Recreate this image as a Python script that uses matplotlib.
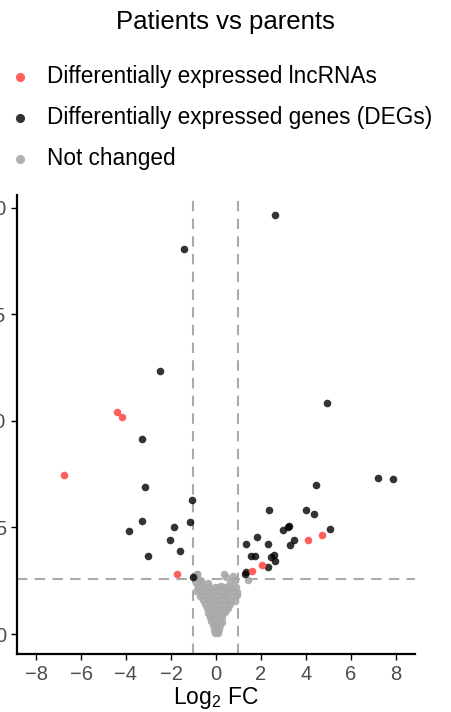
import matplotlib
matplotlib.use("Agg")
import matplotlib.pyplot as plt

plt.rcParams['font.family'] = ['Liberation Sans', 'DejaVu Sans']
plt.rcParams['mathtext.default'] = 'regular'

# differentially expressed lncRNAs (log2 FC, -log10 p)
lnc_x = [-6.76, -4.39, -4.19, -1.73, 1.60, 2.04, 4.10, 4.70]
lnc_y = [7.46, 10.40, 10.18, 2.80, 2.98, 3.26, 4.41, 4.66]

# differentially expressed genes
deg_x = [2.64, -1.42, -2.47, 4.95, -3.29, -3.14, 7.21, 7.88, 4.44, -1.05,
         2.37, 4.00, 4.36, -3.28, -1.17, -1.87, 5.07, -3.87, 2.98, 3.26,
         3.22, 3.47, 3.30, 1.82, 1.33, 2.34, -2.06, -1.60, 1.54, 1.76,
         2.59, 2.47, 2.62, -3.01, 2.34, 1.32, 1.29, -1.02]
deg_y = [19.67, 18.06, 12.34, 10.82, 9.14, 6.90, 7.30, 7.29, 6.99, 6.28,
         5.83, 5.80, 5.61, 5.31, 5.28, 5.03, 4.91, 4.82, 4.88, 5.07,
         5.00, 4.41, 4.16, 4.54, 4.23, 4.23, 4.43, 3.88, 3.64, 3.64,
         3.73, 3.60, 3.45, 3.64, 3.17, 2.90, 2.80, 2.67]

# not changed
nc_x = [-0.86, -0.84, -0.71, -0.89, -0.62, -0.33, 0.36, 0.47, 0.77, 0.62, 0.24, 0.85, 1.44,
        -0.80, -0.56, -0.31, -0.06, 0.16, 0.41, 0.66, 0.90,
        -0.88, -0.67, -0.44, -0.21, 0.02, 0.26, 0.49, 0.74, 0.93,
        -0.72, -0.50, -0.24, 0.05, 0.31, 0.56, 0.79, 0.92,
        -0.58, -0.37, -0.16, 0.11, 0.34, 0.61, 0.84,
        -0.48, -0.28, -0.09, 0.16, 0.41, 0.64,
        -0.40, -0.20, 0.01, 0.22, 0.42, 0.56,
        -0.33, -0.14, 0.06, 0.26, 0.42,
        -0.27, -0.10, 0.09, 0.29,
        -0.22, -0.04, 0.14, 0.27,
        -0.15, 0.04, 0.20,
        -0.08, 0.06, 0.15,
        -0.02, 0.09]
nc_y = [2.83, 2.81, 2.55, 2.39, 2.39, 2.39, 2.83, 2.70, 2.73, 2.39, 2.28, 2.55, 2.55,
        2.21, 2.18, 2.22, 2.19, 2.20, 2.23, 2.18, 2.21,
        2.01, 1.98, 2.03, 1.99, 2.02, 1.97, 2.00, 2.03, 1.98,
        1.81, 1.78, 1.82, 1.79, 1.83, 1.80, 1.77, 1.82,
        1.61, 1.58, 1.62, 1.59, 1.63, 1.60, 1.57,
        1.41, 1.38, 1.42, 1.39, 1.43, 1.40,
        1.21, 1.18, 1.22, 1.19, 1.20, 1.23,
        1.01, 0.98, 1.02, 0.99, 1.03,
        0.81, 0.78, 0.82, 0.79,
        0.61, 0.58, 0.62, 0.59,
        0.41, 0.38, 0.42,
        0.21, 0.18, 0.22,
        0.05, 0.03]

fig = plt.figure(figsize=(4.51, 7.12), dpi=100)
ax = fig.add_axes([0.0377, 0.0815, 0.882, 0.645])

ax.axvline(-1, color='#aaaaaa', lw=1.5, ls=(0, (5, 3.5)), zorder=1)
ax.axvline(1, color='#aaaaaa', lw=1.5, ls=(0, (5, 3.5)), zorder=1)
ax.axhline(2.6, color='#aaaaaa', lw=1.5, ls=(0, (5, 3.5)), zorder=1)

p3 = ax.scatter(nc_x, nc_y, s=30, color='#a9a9a9', alpha=0.9, lw=0, zorder=2, label='Not changed')
p2 = ax.scatter(deg_x, deg_y, s=30, color='black', alpha=0.8, lw=0, zorder=3,
                label='Differentially expressed genes (DEGs)')
p1 = ax.scatter(lnc_x, lnc_y, s=30, color='#ff4d4d', alpha=0.9, lw=0, zorder=4,
                label='Differentially expressed lncRNAs')

ax.set_xlim(-8.85, 8.85)
ax.set_ylim(-0.93, 20.6)
ax.set_xticks(range(-8, 9, 2))
ax.set_yticks([0, 5, 10, 15, 20])
ax.set_xticklabels(['\u22128', '\u22126', '\u22124', '\u22122', '0', '2', '4', '6', '8'])
ax.tick_params(labelsize=14.5, labelcolor='#4d4d4d', length=4, width=1, pad=4)
for s in ['top', 'right']:
    ax.spines[s].set_visible(False)
for s in ['left', 'bottom']:
    ax.spines[s].set_linewidth(1.6)
ax.set_xlabel('Log$_2$ FC', fontsize=16.5, labelpad=1)

fig.suptitle('Patients vs parents', fontsize=18.5, x=0.5, y=0.986)
fig.legend(handles=[p1, p2, p3], loc='upper left', bbox_to_anchor=(0.0, 0.922),
           frameon=False, fontsize=16.3, handletextpad=0.69, labelspacing=0.81,
           handlelength=1.0, borderaxespad=0, markerscale=1.2)

fig.savefig('out.png', dpi=100)
